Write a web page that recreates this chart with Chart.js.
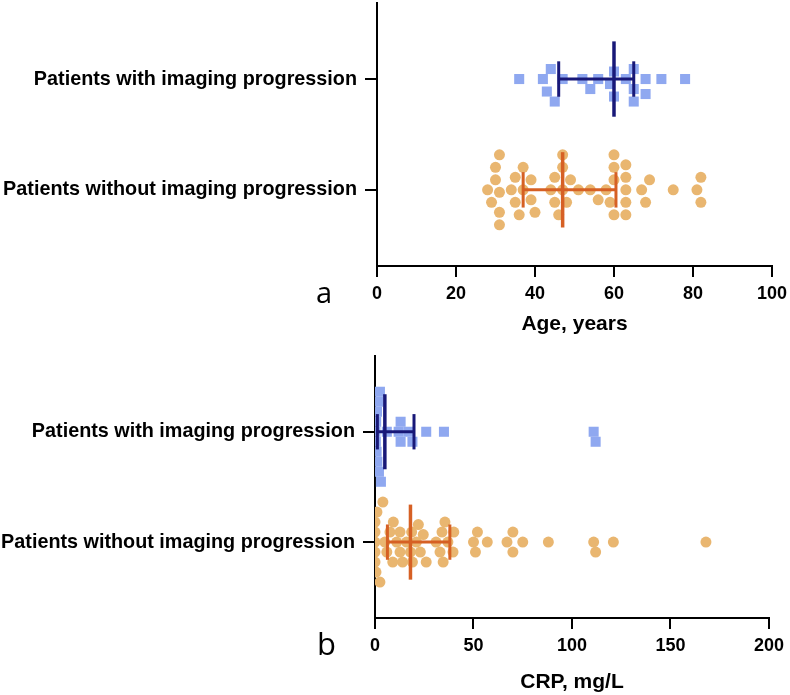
<!DOCTYPE html>
<html>
<head>
<meta charset="utf-8">
<script src="https://cdn.jsdelivr.net/npm/chart.js@4.4.1/dist/chart.umd.min.js"></script>
<style>
  html, body { margin: 0; padding: 0; background: #fff; }
  body { width: 790px; height: 695px; position: relative; overflow: hidden; }
  .panel { position: absolute; left: 0; }
  .lbl { position: absolute; font-family: 'Open Sans', sans-serif; color: #000; line-height: 1; }
</style>
</head>
<body>
<div class="panel" style="top:-17px;"><canvas id="c1" width="793" height="362"></canvas></div>
<div class="panel" style="top:336px;"><canvas id="c2" width="790" height="359"></canvas></div>
<div class="lbl" id="la" style="left:316px; top:277px; font-size:29px;">a</div>
<div class="lbl" id="lb" style="left:317px; top:628px; font-size:31px;">b</div>
<script>
// ---------- data ----------
const categories = ['Patients with imaging progression', 'Patients without imaging progression'];
const categoryPos = [1, 0];

const ageWith = [36, 42, 43, 44, 45, 47, 52, 54, 56, 59, 60, 60, 63, 65, 65, 65, 68, 68, 72, 78];
const ageWithout = [28, 29, 30, 30, 31, 31, 31, 31, 34, 35, 35, 36, 37, 37, 39, 39, 40, 44, 45, 45, 46, 47, 47, 47,
  48, 49, 51, 54, 56, 58, 59, 60, 60, 60, 60, 63, 63, 63, 63, 63, 67, 68, 69, 75, 81, 82, 82];
const ageMedian = [60, 47];
const ageQ1 = [46, 37];
const ageQ3 = [65, 60.5];
const ageTicks = [0, 20, 40, 60, 80, 100];

const crpWith = [0.2, 0.4, 0.6, 0.8, 1, 1.2, 1.5, 2, 2.5, 3, 6, 12, 13, 13, 17, 19, 26, 35, 111, 112];
const crpWithout = [0, 0, 0, 0, 0, 0.5, 1, 2.5, 4, 5, 6, 7.6, 9, 9.3, 11, 12.7, 12.7, 14, 16, 18, 18.6, 19, 21,
  22, 23, 24.5, 26, 31, 33, 34, 34.6, 35.5, 37, 39.6, 40, 50, 51, 52, 57, 67, 70, 70, 75, 88, 111, 112, 121, 168];
const crpMedian = [5, 18];
const crpQ1 = [1.2, 6.3];
const crpQ3 = [19.8, 38];
const crpTicks = [0, 50, 100, 150, 200];

// ---------- styling ----------
const BLUE_PT = 'rgb(143,168,240)';
const BLUE_BAR = 'rgb(24,24,120)';
const ORANGE_PT = 'rgb(233,182,112)';
const ORANGE_BAR = 'rgb(214,96,36)';
const FONT = "'Liberation Sans', Arial, sans-serif";

function pts(values, c) { return values.map(v => ({ x: v, y: c })); }
function seg(x1, y1, x2, y2) { return [{ x: x1, y: y1 }, { x: x2, y: y2 }]; }

function barSets(med, q1, q3, colors) {
  const sets = [];
  for (let i = 0; i < categoryPos.length; i++) {
    const c = categoryPos[i];
    const col = colors[i];
    sets.push({ type: 'line', data: seg(q1[i], c, q3[i], c), borderColor: col, borderWidth: 3, pointRadius: 0, order: 0 });
    sets.push({ type: 'line', data: seg(q1[i], c - 0.16, q1[i], c + 0.16), borderColor: col, borderWidth: 3, pointRadius: 0, order: 0 });
    sets.push({ type: 'line', data: seg(q3[i], c - 0.16, q3[i], c + 0.16), borderColor: col, borderWidth: 3, pointRadius: 0, order: 0 });
    sets.push({ type: 'line', data: seg(med[i], c - 0.34, med[i], c + 0.34), borderColor: col, borderWidth: 3.5, pointRadius: 0, order: 0 });
  }
  return sets;
}

function makeChart(id, cfg) {
  const datasets = [
    { type: 'scatter', data: pts(cfg.withVals, categoryPos[0]), pointStyle: 'rect', pointRadius: 7.1,
      backgroundColor: BLUE_PT, borderColor: BLUE_PT, borderWidth: 0, order: 1 },
    { type: 'scatter', data: pts(cfg.withoutVals, categoryPos[1]), pointStyle: 'circle', pointRadius: 5.5,
      backgroundColor: ORANGE_PT, borderColor: ORANGE_PT, borderWidth: 0, order: 1 },
    ...barSets(cfg.med, cfg.q1, cfg.q3, [BLUE_BAR, ORANGE_BAR])
  ];
  const chart = new Chart(document.getElementById(id), {
    type: 'scatter',
    data: { datasets },
    options: {
      responsive: false,
      animation: false,
      events: [],
      layout: { padding: cfg.padding },
      plugins: { legend: { display: false }, tooltip: { enabled: false } },
      scales: {
        x: {
          type: 'linear', min: cfg.ticks[0], max: cfg.ticks[cfg.ticks.length - 1],
          afterBuildTicks: s => { s.ticks = cfg.ticks.map(v => ({ value: v })); },
          ticks: { color: '#000', font: { family: FONT, size: 18, weight: 'bold' }, padding: cfg.tickPad, maxRotation: 0, autoSkip: false },
          grid: { drawOnChartArea: false, color: '#000', lineWidth: 2, tickLength: 11, tickWidth: 2 },
          border: { color: '#000', width: 2 },
          title: { display: true, text: cfg.title, color: '#000', font: { family: FONT, size: 21, weight: 'bold' }, padding: { top: 0, bottom: cfg.titlePad } },
          afterFit: s => { s.height = cfg.xHeight; }
        },
        y: {
          type: 'linear', min: -0.6875, max: 1.6875,
          afterBuildTicks: s => { s.ticks = categoryPos.map(v => ({ value: v })); },
          ticks: {
            color: '#000', font: { family: FONT, size: 19.8, weight: 'bold' }, padding: 8, autoSkip: false,
            callback: v => { const i = categoryPos.indexOf(v); return i >= 0 ? categories[i] : ''; }
          },
          grid: { drawOnChartArea: false, color: '#000', lineWidth: 2, tickLength: 12, tickWidth: 2 },
          border: { color: '#000', width: 2 },
          afterFit: s => { s.width = cfg.yWidth; }
        }
      }
    }
  });

  // beeswarm spread computed from the values through the chart's own scales
  const xs = chart.scales.x, ys = chart.scales.y;
  const pxPerY = Math.abs(ys.getPixelForValue(1) - ys.getPixelForValue(0));
  [0, 1].forEach(di => {
    const ds = chart.data.datasets[di];
    const vals = ds.data.map(p => p.x);
    const order = vals.map((v, i) => i).sort((a, b) => vals[a] - vals[b]);
    const placed = [];
    const diam = cfg.spread[di], step = 2.5;
    order.forEach(i => {
      const px = xs.getPixelForValue(vals[i]);
      let off = 0;
      for (let k = 0; k < 200; k++) {
        const cand = (k % 2 ? -1 : 1) * Math.ceil(k / 2) * step;
        if (placed.every(p => Math.hypot(p.x - px, p.y - cand) >= diam)) { off = cand; break; }
      }
      placed.push({ x: px, y: off });
      ds.data[i] = { x: vals[i], y: categoryPos[di] + off / pxPerY };
    });
  });
  chart.update('none');
  return chart;
}

makeChart('c1', {
  withVals: ageWith, withoutVals: ageWithout, med: ageMedian, q1: ageQ1, q3: ageQ3,
  ticks: ageTicks, title: 'Age, years', spread: [12.5, 11.2],
  padding: { left: 0, right: 9, top: 0, bottom: 0 }, xHeight: 79, yWidth: 377, tickPad: 6, titlePad: 8
});
makeChart('c2', {
  withVals: crpWith, withoutVals: crpWithout, med: crpMedian, q1: crpQ1, q3: crpQ3,
  ticks: crpTicks, title: 'CRP, mg/L', spread: [9, 9.8],
  padding: { left: 0, right: 19, top: 0, bottom: 0 }, xHeight: 77, yWidth: 375, tickPad: 6, titlePad: 0
});
</script>
</body>
</html>
